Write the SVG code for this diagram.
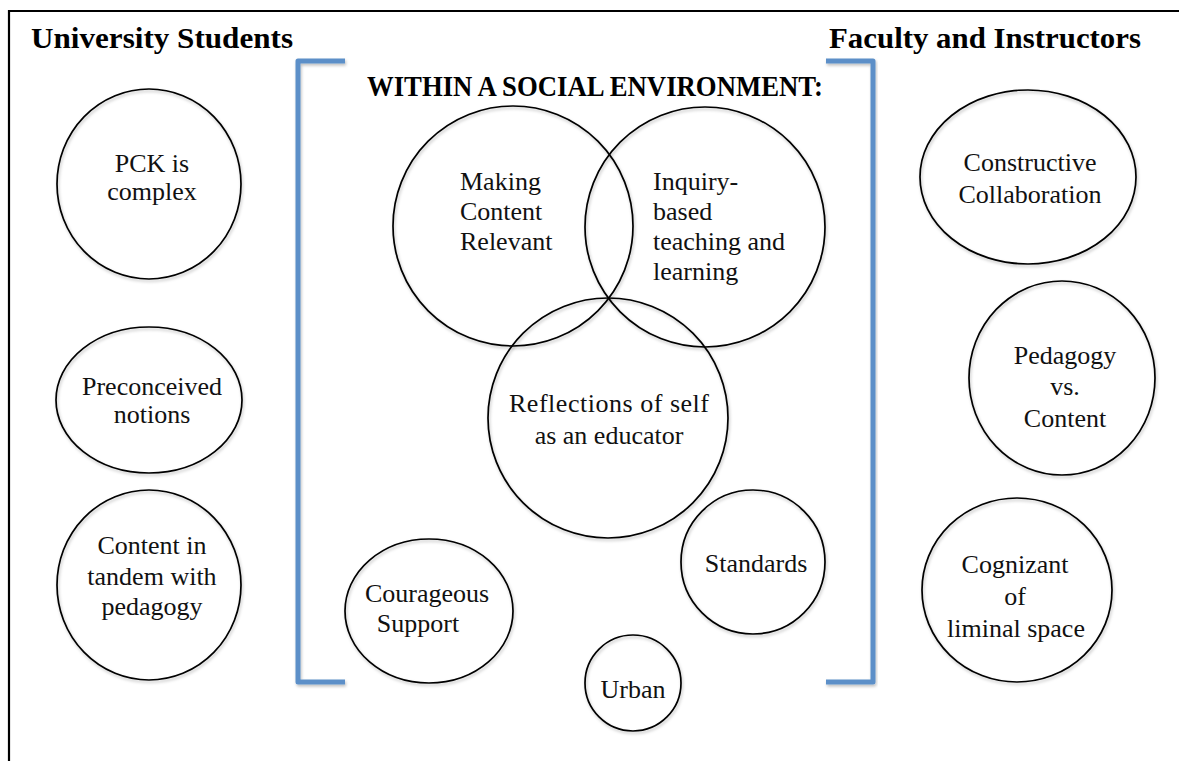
<svg xmlns="http://www.w3.org/2000/svg" width="1179" height="761" viewBox="0 0 1179 761">
  <defs>
    <filter id="sh" x="-10%" y="-10%" width="120%" height="120%">
      <feDropShadow dx="1" dy="2" stdDeviation="1.5" flood-color="#000" flood-opacity="0.25"/>
    </filter>
    <style>
      .bg { fill: #ffffff; }
      .frame { stroke: #000; stroke-width: 2.2; fill: none; }
      .node { fill: none; stroke: #000; stroke-width: 1.7; filter: url(#sh); }
      .bracket { fill: none; stroke: #5b8fc8; stroke-width: 5; stroke-linejoin: round; filter: url(#sh); }
      .lbl { font-family: "Liberation Serif", "Times New Roman", serif; font-size: 26px; fill: #111; }
      .c { text-anchor: middle; }
      .hdr { font-family: "Liberation Serif", "Times New Roman", serif; font-weight: bold; font-size: 30px; fill: #000; }
    </style>
  </defs>
  <rect class="bg" x="0" y="0" width="1179" height="761"/>
  <g id="frame">
    <path class="frame" d="M9,761 L9,11 L1179,11"/>
  </g>
  <g id="headers">
    <text class="hdr" x="31" y="48" textLength="262" lengthAdjust="spacingAndGlyphs">University Students</text>
    <text class="hdr" x="829" y="48" textLength="312" lengthAdjust="spacingAndGlyphs">Faculty and Instructors</text>
    <text class="hdr" x="367" y="96" font-size="26" textLength="456" lengthAdjust="spacingAndGlyphs">WITHIN A SOCIAL ENVIRONMENT:</text>
  </g>
  <g id="brackets">
    <path class="bracket" d="M345,61 L298,61 L298,682 L345,682"/>
    <path class="bracket" d="M826,61 L873,61 L873,682 L826,682"/>
  </g>
  <g id="n-pck">
    <ellipse class="node" cx="149" cy="184" rx="92" ry="95"/>
    <text class="lbl c" x="152" y="172">PCK is</text>
    <text class="lbl c" x="152" y="200">complex</text>
  </g>
  <g id="n-preconceived">
    <ellipse class="node" cx="149" cy="400" rx="93" ry="73"/>
    <text class="lbl c" x="152" y="395">Preconceived</text>
    <text class="lbl c" x="152" y="423">notions</text>
  </g>
  <g id="n-content">
    <ellipse class="node" cx="149" cy="585" rx="92" ry="95"/>
    <text class="lbl c" x="152" y="554">Content in</text>
    <text class="lbl c" x="152" y="585">tandem with</text>
    <text class="lbl c" x="152" y="615">pedagogy</text>
  </g>
  <g id="n-making">
    <circle class="node" cx="513" cy="226" r="120"/>
    <text class="lbl" x="460" y="190">Making</text>
    <text class="lbl" x="460" y="220">Content</text>
    <text class="lbl" x="460" y="250">Relevant</text>
  </g>
  <g id="n-inquiry">
    <circle class="node" cx="705" cy="227" r="120"/>
    <text class="lbl" x="653" y="190">Inquiry-</text>
    <text class="lbl" x="653" y="220">based</text>
    <text class="lbl" x="653" y="250">teaching and</text>
    <text class="lbl" x="653" y="280">learning</text>
  </g>
  <g id="n-reflections">
    <circle class="node" cx="608" cy="418" r="120"/>
    <text class="lbl c" x="609" y="412" textLength="200">Reflections of self</text>
    <text class="lbl c" x="609" y="444">as an educator</text>
  </g>
  <g id="n-standards">
    <circle class="node" cx="753" cy="562" r="72"/>
    <text class="lbl c" x="756" y="572">Standards</text>
  </g>
  <g id="n-courageous">
    <ellipse class="node" cx="429" cy="611" rx="84" ry="72"/>
    <text class="lbl c" x="427" y="602">Courageous</text>
    <text class="lbl c" x="418" y="632">Support</text>
  </g>
  <g id="n-urban">
    <circle class="node" cx="633" cy="683" r="48"/>
    <text class="lbl c" x="633" y="698">Urban</text>
  </g>
  <g id="n-constructive">
    <ellipse class="node" cx="1028" cy="177" rx="108" ry="87"/>
    <text class="lbl c" x="1030" y="171">Constructive</text>
    <text class="lbl c" x="1030" y="203">Collaboration</text>
  </g>
  <g id="n-pedagogy">
    <ellipse class="node" cx="1062" cy="378" rx="93" ry="97"/>
    <text class="lbl c" x="1065" y="364">Pedagogy</text>
    <text class="lbl c" x="1065" y="395">vs.</text>
    <text class="lbl c" x="1065" y="427">Content</text>
  </g>
  <g id="n-cognizant">
    <ellipse class="node" cx="1017" cy="590" rx="95" ry="92"/>
    <text class="lbl c" x="1015" y="573">Cognizant</text>
    <text class="lbl c" x="1015" y="605">of</text>
    <text class="lbl c" x="1016" y="637" font-size="27">liminal space</text>
  </g>
  <g id="connectors"></g>
</svg>
